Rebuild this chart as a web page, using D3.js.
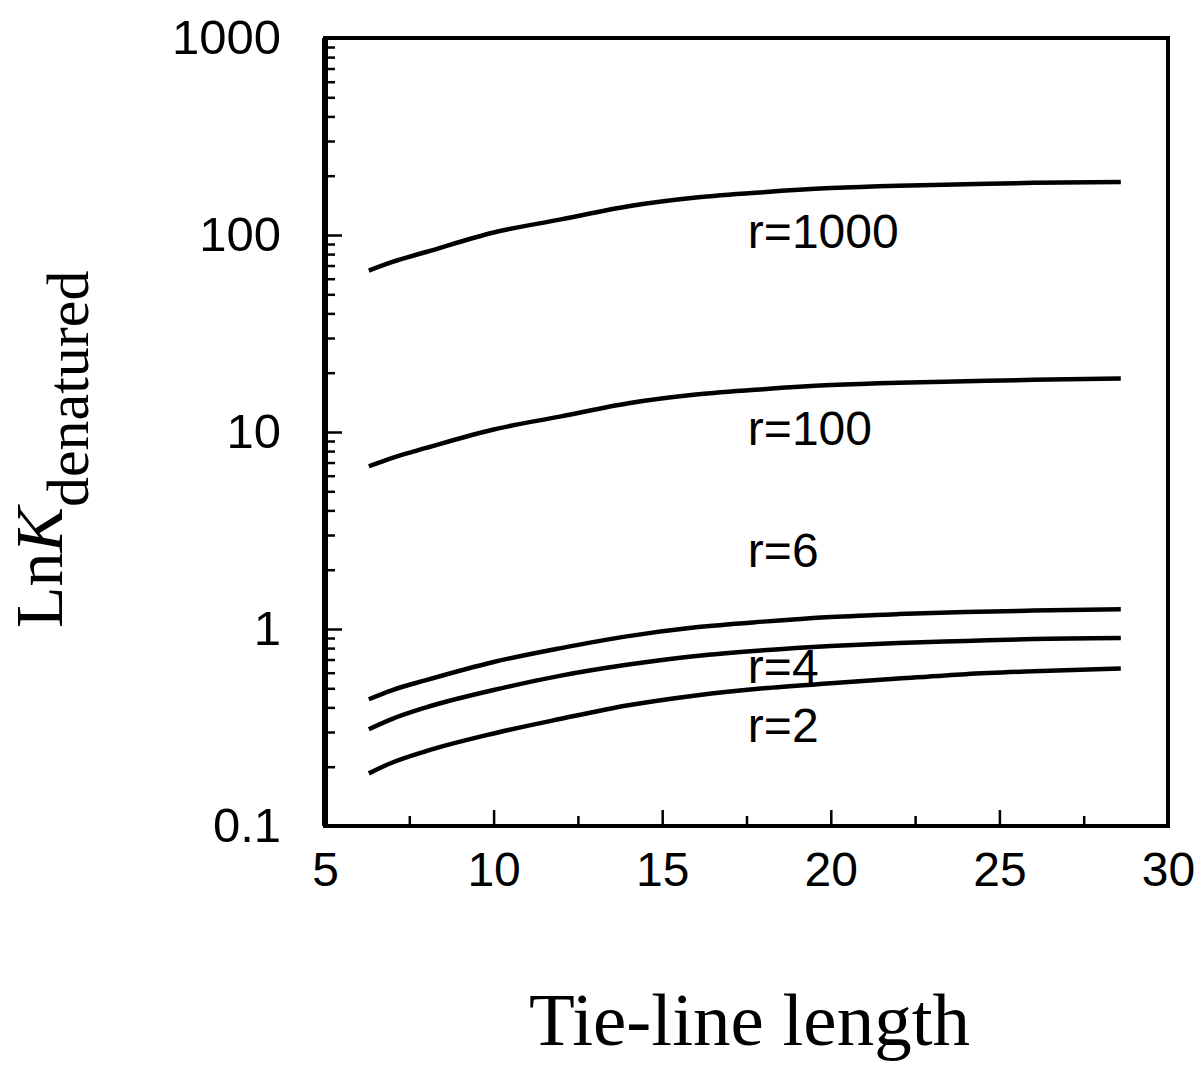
<!DOCTYPE html>
<html>
<script src="https://d3js.org/d3.v7.min.js"></script>

<head>
    <style>
        body {
            margin: 0;
            background-color: white;
        }

        svg {
            display: block;
        }

        .tick text {
            font-family: Arial, "Liberation Sans", sans-serif;
        }
    </style>
</head>

<body>
    <svg width="1202" height="1071"></svg>
</body>
<script>
    const width = 1202,
        height = 1071;
    const svg = d3.select("svg");

    // tie-line length (x) where curves were read
    const TIE_LINE = [6.3, 7, 8, 10, 12, 14, 16, 18, 20, 22, 24, 26, 28.6];
    // LnK values, one array per r
    const R1000 = [66, 73, 82, 103, 120, 140, 155, 165, 173, 178, 181, 184, 186];
    const R100 = [6.7, 7.4, 8.3, 10.3, 12, 14, 15.5, 16.5, 17.3, 17.8, 18.1, 18.4, 18.7];
    const R6 = [0.44, 0.49, 0.55, 0.68, 0.80, 0.92, 1.02, 1.09, 1.15, 1.19, 1.22, 1.24, 1.26];
    const R4 = [0.31, 0.35, 0.40, 0.49, 0.58, 0.66, 0.73, 0.78, 0.82, 0.85, 0.87, 0.89, 0.90];
    const R2 = [0.185, 0.21, 0.24, 0.295, 0.35, 0.41, 0.46, 0.50, 0.53, 0.56, 0.59, 0.61, 0.63];
    const SERIES = [R1000, R100, R6, R4, R2];

    // curve labels: text, and where it sits in data units
    const LABELS = [
        { text: "r=1000", x: 17.6, y: 100 },
        { text: "r=100", x: 17.6, y: 10 },
        { text: "r=6", x: 17.6, y: 2.4 },
        { text: "r=4", x: 17.6, y: 0.62 },
        { text: "r=2", x: 17.6, y: 0.31 },
    ];

    const X_MAJOR = [5, 10, 15, 20, 25, 30];
    const X_MINOR = [7.5, 12.5, 17.5, 22.5, 27.5];
    const Y_MAJOR = [0.1, 1, 10, 100, 1000];

    function draw() {
        const margin = { left: 325, right: 1168, top: 38, bottom: 826 };
        const x = d3.scaleLinear().domain([5, 30]).range([margin.left, margin.right]);
        const y = d3.scaleLog().domain([0.1, 1000]).range([margin.bottom, margin.top]);

        const yMinor = [];
        [0.1, 1, 10, 100].forEach(d => {
            for (let k = 2; k <= 9; k++) yMinor.push(d * k);
        });

        // y axis minor ticks
        svg.append("g")
            .attr("transform", `translate(${margin.left},0)`)
            .call(d3.axisLeft(y).tickValues(yMinor).tickSize(-10).tickFormat(""))
            .call(g => g.select(".domain").remove())
            .selectAll("line").attr("stroke", "black").attr("stroke-width", 2.5);
        // y axis major ticks + labels
        const gy = svg.append("g")
            .attr("transform", `translate(${margin.left},0)`)
            .call(d3.axisLeft(y).tickValues(Y_MAJOR).tickSize(-17).tickPadding(44)
                .tickFormat(d => d < 1 ? "0.1" : d3.format("d")(d)));
        gy.select(".domain").remove();
        gy.selectAll("line").attr("stroke", "black").attr("stroke-width", 2.5);
        gy.selectAll("text").attr("font-size", 49).attr("fill", "black");

        // x axis minor
        svg.append("g")
            .attr("transform", `translate(0,${margin.bottom})`)
            .call(d3.axisBottom(x).tickValues(X_MINOR).tickSize(-10).tickFormat(""))
            .call(g => g.select(".domain").remove())
            .selectAll("line").attr("stroke", "black").attr("stroke-width", 2.5);
        const gx = svg.append("g")
            .attr("transform", `translate(0,${margin.bottom})`)
            .call(d3.axisBottom(x).tickValues(X_MAJOR).tickSize(-16).tickPadding(26));
        gx.select(".domain").remove();
        gx.selectAll("line").attr("stroke", "black").attr("stroke-width", 2.5);
        gx.selectAll("text").attr("font-size", 48).attr("fill", "black");

        // frame
        svg.append("rect")
            .attr("x", margin.left)
            .attr("y", margin.top)
            .attr("width", margin.right - margin.left)
            .attr("height", margin.bottom - margin.top)
            .attr("fill", "none")
            .attr("stroke", "black")
            .attr("stroke-width", 4);
        svg.append("line")
            .attr("x1", margin.left).attr("x2", margin.left)
            .attr("y1", margin.top).attr("y2", margin.bottom)
            .attr("stroke", "black").attr("stroke-width", 6);

        // curves
        const line = d3.line()
            .x((d, i) => x(TIE_LINE[i]))
            .y(d => y(d))
            .curve(d3.curveMonotoneX);
        SERIES.forEach(s => {
            svg.append("path")
                .attr("fill", "none")
                .attr("stroke", "black")
                .attr("stroke-width", 4.5)
                .attr("d", line(s));
        });

        // curve labels
        LABELS.forEach(l => {
            svg.append("text")
                .attr("x", x(l.x) - 2)
                .attr("y", y(l.y))
                .attr("font-family", "Arial, 'Liberation Sans', sans-serif")
                .attr("font-size", 48)
                .attr("dominant-baseline", "middle")
                .text(l.text);
        });

        // axis titles
        svg.append("text")
            .attr("x", (margin.left + margin.right) / 2 + 3)
            .attr("y", 1045)
            .attr("text-anchor", "middle")
            .attr("font-family", "'Times New Roman', 'Liberation Serif', serif")
            .attr("font-size", 75)
            .text("Tie-line length");

        const yt = svg.append("text")
            .attr("transform", "translate(62,628) rotate(-90)")
            .attr("font-family", "'Times New Roman', 'Liberation Serif', serif")
            .attr("font-size", 68);
        yt.append("tspan").text("Ln");
        yt.append("tspan").attr("font-style", "italic").text("K");
        yt.append("tspan").attr("font-size", 60).attr("dy", 26).text("denatured");
    }

    draw();
</script>

</html>
